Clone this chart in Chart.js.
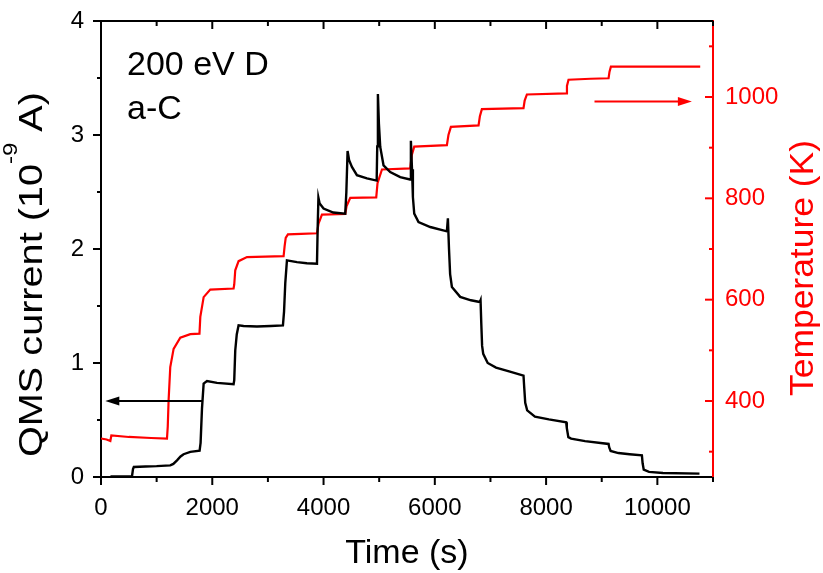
<!DOCTYPE html>
<html><head><meta charset="utf-8">
<script src="https://cdn.jsdelivr.net/npm/chart.js@4.4.0/dist/chart.umd.min.js"></script>
<style>html,body{margin:0;padding:0;background:#fff}</style>
</head><body>
<canvas id="c" width="823" height="573"></canvas>
<script>
// ---- data ----
const qmsTime = [170,557,575,590,800,1000,1245,1300,1366,1430,1485,1605,1772,1790,1815,1845,1905,2085,2383,2395,2413,2440,2473,2563,2803,3050,3270,3290,3312,3342,3522,3700,3882,3895,3908,3930,4000,4175,4390,4410,4432,4460,4510,4600,4780,4955,4965,4977,4995,5019,5078,5198,5378,5555,5570,5590,5606,5630,5707,5918,6217,6235,6255,6275,6307,6456,6650,6810,6822,6835,6850,6870,6950,7100,7350,7594,7605,7625,7660,7800,8050,8361,8372,8400,8450,8700,9123,9135,9160,9300,9500,9722,9735,9755,9850,10100,10757];
const qmsCurrent = [0.004,0.006,0.07,0.088,0.092,0.095,0.102,0.115,0.146,0.18,0.2,0.22,0.23,0.3,0.6,0.82,0.842,0.826,0.814,0.85,1.11,1.25,1.33,1.325,1.32,1.325,1.33,1.45,1.70,1.90,1.885,1.875,1.87,2.2,2.45,2.4,2.355,2.32,2.31,2.5,2.86,2.78,2.72,2.647,2.62,2.60,2.9,3.36,3.1,2.895,2.734,2.675,2.63,2.61,2.95,2.7,2.456,2.31,2.237,2.193,2.155,2.27,2.0,1.78,1.667,1.58,1.55,1.535,1.55,1.35,1.15,1.08,1.0,0.96,0.925,0.89,0.8,0.65,0.585,0.53,0.505,0.48,0.43,0.35,0.337,0.315,0.29,0.26,0.228,0.21,0.2,0.19,0.12,0.065,0.045,0.035,0.03];
const tempTime = [0,100,168,186,500,900,1186,1200,1215,1245,1305,1425,1605,1770,1785,1845,1964,2383,2395,2413,2473,2624,2950,3282,3300,3320,3360,3600,3882,3910,3971,4390,4415,4480,4947,4970,5050,5558,5585,5630,6217,6245,6289,6786,6810,6846,7594,7615,7655,8361,8375,8403,8800,9123,9140,9165,9800,10770];
const tempK = [326,324,321,332,329,327,326,350,401,467,503,525,532,533,566,605,620,622,630,658,676,684,685,686,705,722,729,730,731,750,768,769,785,801,802,830,857,859,885,902,905,925,941,944,962,976,978,993,1005,1007,1022,1034,1036,1037,1050,1060,1060,1060];

const xTicks = [0,2000,4000,6000,8000,10000];
const xMinor = [1000,3000,5000,7000,9000,11000];
const yTicks = [0,1,2,3,4];
const yMinor = [0.5,1.5,2.5,3.5];
const tTicks = [400,600,800,1000];
const tMinor = [300,500,700,900,1100];

const xTitle = 'Time (s)';
const yTitleParts = ['QMS current (10', '-9', ' A)'];
const tTitle = 'Temperature (K)';
const noteLines = ['200 eV D', 'a-C'];
// arrows in data coordinates: [xFrom, xTo, yValue]
const arrowQMS = [1815, 77, 0.667];
const arrowTemp = [8870, 10620, 991];

// ---- chart ----
const FONT = '"Liberation Sans", Arial, sans-serif';
const RED = '#ff0000';

function line(ctx, x1, y1, x2, y2) { ctx.beginPath(); ctx.moveTo(x1, y1); ctx.lineTo(x2, y2); ctx.stroke(); }
function arrow(ctx, x1, y, x2, color) {
  ctx.strokeStyle = color; ctx.fillStyle = color; ctx.lineWidth = 2;
  const dir = Math.sign(x2 - x1);
  line(ctx, x1, y, x2 - dir * 12, y);
  ctx.beginPath(); ctx.moveTo(x2, y); ctx.lineTo(x2 - dir * 14, y - 4.5); ctx.lineTo(x2 - dir * 14, y + 4.5); ctx.closePath(); ctx.fill();
}
function rotText(ctx, parts, baseX, yStart, yEnd, color) {
  ctx.save();
  ctx.fillStyle = color; ctx.textBaseline = 'alphabetic'; ctx.textAlign = 'left';
  let W = 0;
  parts.forEach(p => { ctx.font = p.size + 'px ' + FONT; p.w = ctx.measureText(p.t).width; W += p.w; });
  ctx.translate(baseX, yStart); ctx.rotate(-Math.PI / 2);
  ctx.scale((yStart - yEnd) / W, 1);
  let xx = 0;
  parts.forEach(p => { ctx.font = p.size + 'px ' + FONT; ctx.fillText(p.t, xx, -p.rise); xx += p.w; });
  ctx.restore();
}

const deco = {
  id: 'deco',
  afterDraw(chart) {
    const { ctx, chartArea: a, scales: { x, y, y1 } } = chart;
    ctx.save();
    ctx.lineCap = 'butt'; ctx.lineWidth = 2;
    ctx.strokeStyle = '#000';
    line(ctx, a.left - 1, a.top, a.right, a.top);
    yTicks.forEach(v => { const p = y.getPixelForValue(v); line(ctx, a.left - 8, p, a.left, p); });
    yMinor.forEach(v => { const p = y.getPixelForValue(v); line(ctx, a.left - 4, p, a.left, p); });
    xTicks.forEach(v => { const p = x.getPixelForValue(v); line(ctx, p, a.bottom, p, a.bottom + 8); line(ctx, p, a.top, p, a.top + 8); });
    xMinor.forEach(v => { const p = x.getPixelForValue(v); line(ctx, p, a.bottom, p, a.bottom + 5); line(ctx, p, a.top, p, a.top + 5); });
    ctx.strokeStyle = RED;
    tTicks.forEach(v => { const p = y1.getPixelForValue(v); line(ctx, a.right, p, a.right - 8, p); });
    tMinor.forEach(v => { const p = y1.getPixelForValue(v); line(ctx, a.right, p, a.right - 4, p); });

    arrow(ctx, x.getPixelForValue(arrowQMS[0]), y.getPixelForValue(arrowQMS[2]), x.getPixelForValue(arrowQMS[1]), '#000');
    arrow(ctx, x.getPixelForValue(arrowTemp[0]), y1.getPixelForValue(arrowTemp[2]), x.getPixelForValue(arrowTemp[1]), RED);

    ctx.fillStyle = '#000';
    ctx.font = '34px ' + FONT; ctx.textBaseline = 'alphabetic'; ctx.textAlign = 'left';
    ctx.fillText(noteLines[0], a.left + 26, 75);
    ctx.fillText(noteLines[1], a.left + 26, 119);
    ctx.textAlign = 'center';
    ctx.fillText(xTitle, (a.left + a.right) / 2, 563);

    rotText(ctx, [{ t: yTitleParts[0], size: 33, rise: 0 }, { t: yTitleParts[1], size: 20, rise: 25 }, { t: yTitleParts[2], size: 33, rise: 0 }], 42, 457, 92, '#000');
    rotText(ctx, [{ t: tTitle, size: 33, rise: 0 }], 813, 396, 140, RED);
    ctx.restore();
  }
};

const setTicks = arr => s => { s.ticks = arr.map(v => ({ value: v })); };
const plain = v => String(v);
const noPadV = s => { s.paddingTop = 0; s.paddingBottom = 0; };

new Chart(document.getElementById('c'), {
  type: 'line',
  data: {
    datasets: [
      { label: 'QMS', data: qmsTime.map((t, i) => ({ x: t, y: qmsCurrent[i] })), borderColor: '#000', borderWidth: 2.4, pointRadius: 0, tension: 0, yAxisID: 'y' },
      { label: 'T', data: tempTime.map((t, i) => ({ x: t, y: tempK[i] })), borderColor: RED, borderWidth: 2.2, pointRadius: 0, tension: 0, yAxisID: 'y1' }
    ]
  },
  options: {
    responsive: false, animation: false, devicePixelRatio: 1,
    layout: { padding: { top: 21, left: 0, right: 0, bottom: 0 } },
    plugins: { legend: { display: false }, tooltip: { enabled: false } },
    scales: {
      x: {
        type: 'linear', position: 'bottom', min: 0, max: 11000,
        afterBuildTicks: setTicks(xTicks),
        afterFit: s => { s.height = 96; s.paddingLeft = 0; s.paddingRight = 0; },
        ticks: { font: { size: 24, family: FONT }, color: '#000', padding: 17, maxRotation: 0, autoSkip: false, callback: plain },
        grid: { display: true, drawOnChartArea: false, drawTicks: false },
        border: { display: true, color: '#000', width: 2 }
      },
      y: {
        type: 'linear', position: 'left', min: 0, max: 4,
        afterBuildTicks: setTicks(yTicks),
        afterFit: s => { s.width = 101; noPadV(s); },
        ticks: { font: { size: 24, family: FONT }, color: '#000', padding: 17, callback: plain },
        grid: { display: true, drawOnChartArea: false, drawTicks: false },
        border: { display: true, color: '#000', width: 2 }
      },
      y1: {
        type: 'linear', position: 'right', min: 250, max: 1150,
        afterBuildTicks: setTicks(tTicks),
        afterFit: s => { s.width = 110; noPadV(s); },
        ticks: { font: { size: 24, family: FONT }, color: RED, padding: 12, callback: plain },
        grid: { display: true, drawOnChartArea: false, drawTicks: false },
        border: { display: true, color: RED, width: 2 }
      }
    }
  },
  plugins: [deco]
});
</script>
</body></html>
